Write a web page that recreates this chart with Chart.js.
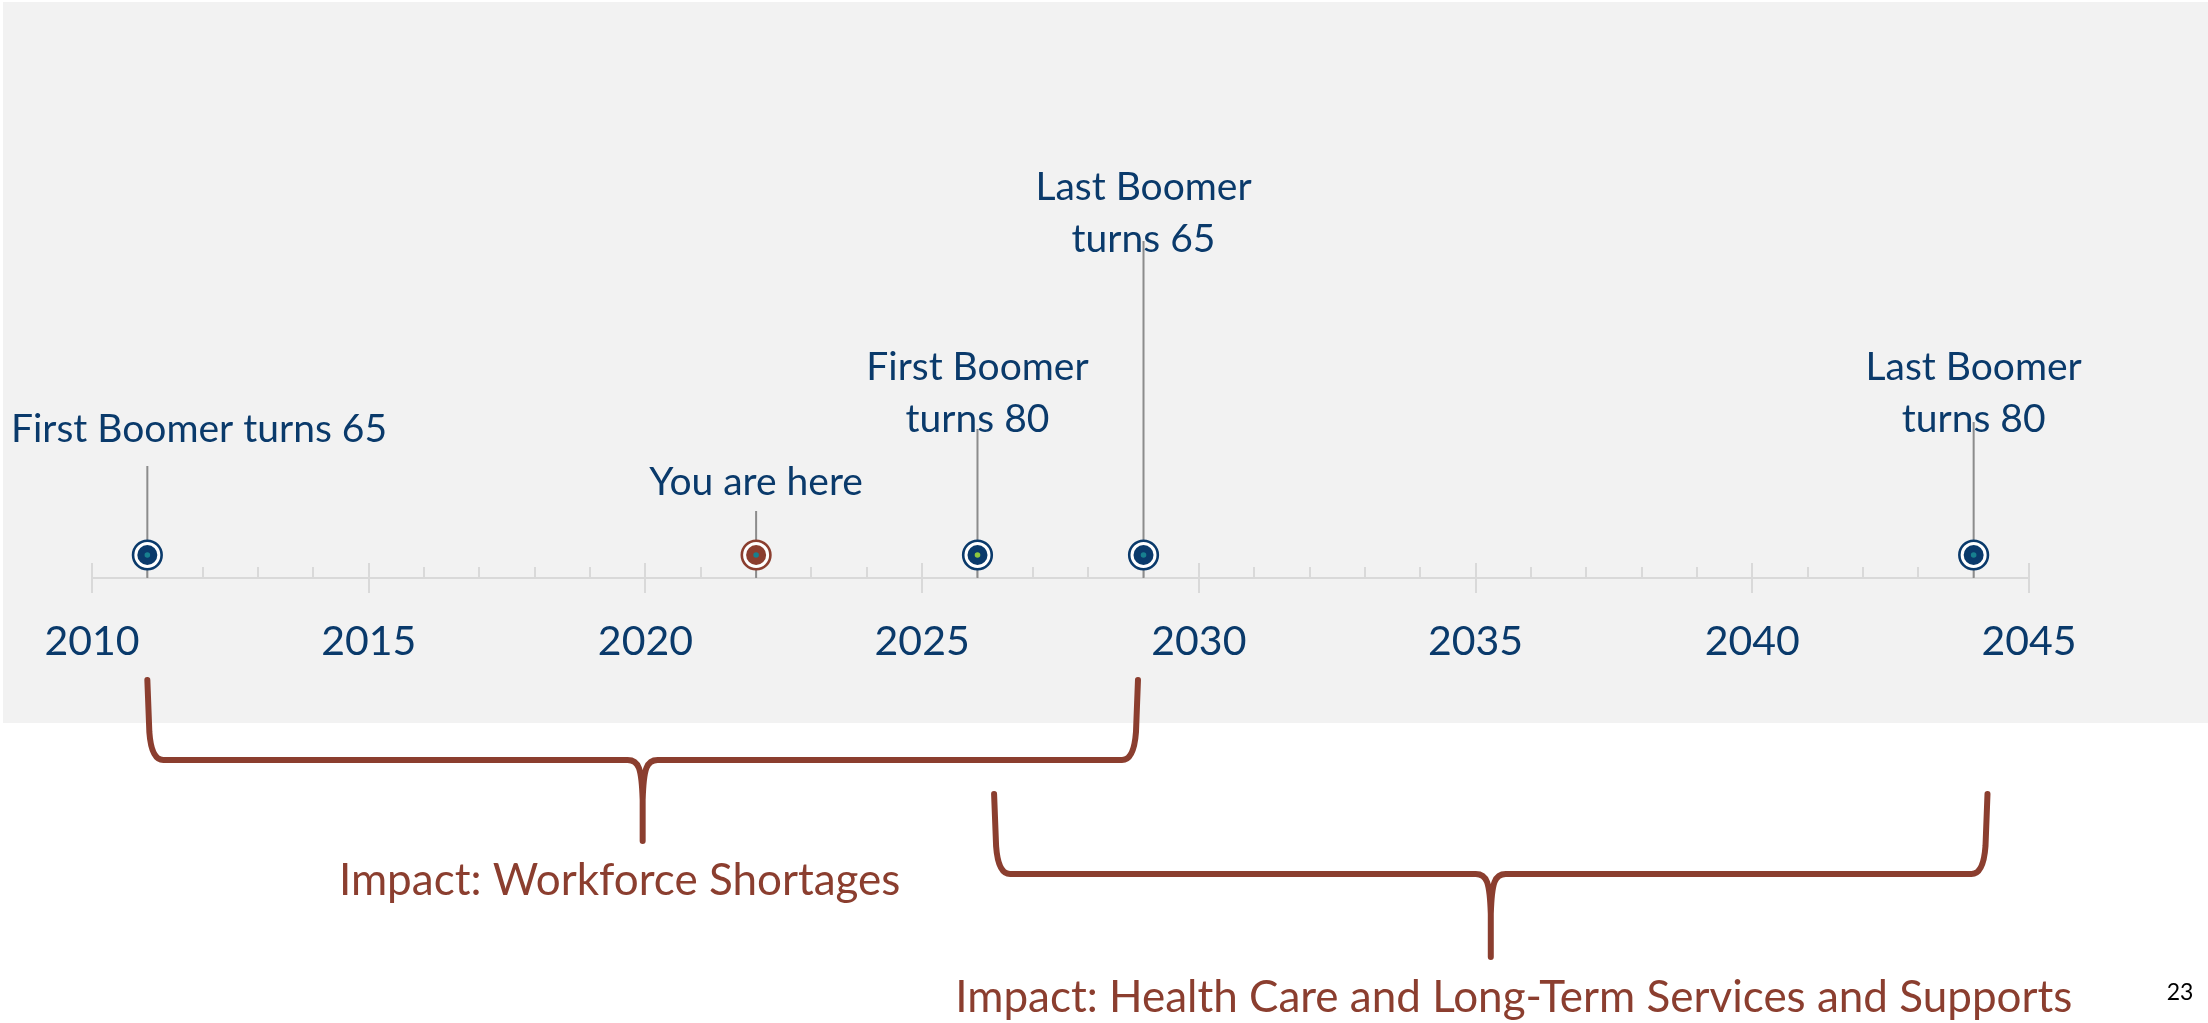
<!DOCTYPE html>
<html>
<head>
<meta charset="utf-8">
<title>Boomer timeline</title>
<script src="https://cdn.jsdelivr.net/npm/chart.js@4.4.0/dist/chart.umd.min.js"></script>
<style>
  html, body { margin:0; padding:0; background:#fff; overflow:hidden; }
  canvas { display:block; }
</style>
</head>
<body>
<canvas id="timeline" width="2208" height="1023"></canvas>
<script>
// dados da linha do tempo
const yearMin = 2010;
const yearMax = 2045;
const eventYears  = [2011, 2022, 2026, 2029, 2044];
const eventLabels = [
  ['First Boomer turns 65'],
  ['You are here'],
  ['First Boomer', 'turns 80'],
  ['Last Boomer', 'turns 65'],
  ['Last Boomer', 'turns 80']
];
const eventTypes  = ['milestone', 'now', 'next', 'milestone', 'milestone'];
const markerLevel = 4.6;                           // altura dos marcadores (unidades do eixo y)
const stemTops    = [22.4, 13.4, 29.8, 67.4, 31.2]; // topo de cada haste
const labelLevels = [29.8, 19.2, 42.2, 78.2, 42.2]; // centro da primeira linha do rótulo

// chaves de impacto
const spanStarts = [2011, 2026.3];
const spanEnds   = [2028.9, 2044.25];
const spanLabels = ['Impact: Workforce Shortages', 'Impact: Health Care and Long-Term Services and Supports'];
const pageNumber = '23';

// estilos
const NAVY = '#0a3a6b';
const BRICK = '#8b3e2f';
const typeStyle = {
  milestone: { ring: NAVY,  core: NAVY,  dot: '#17808f' },
  now:       { ring: BRICK, core: BRICK, dot: '#17808f' },
  next:      { ring: NAVY,  core: NAVY,  dot: '#8dc63f' }
};
const braceGeom = [
  { armTop: 680, bar: 760, tip: 841, text: 881, shift: -23 },
  { armTop: 794, bar: 874, tip: 957, text: 998, shift: 23 }
];

const stemData = [];
eventYears.forEach((yr, i) => {
  stemData.push({ x: yr, y: 0 }, { x: yr, y: stemTops[i] }, { x: yr, y: null });
});
const markerData = eventYears.map(yr => ({ x: yr, y: markerLevel }));

const backdrop = {
  id: 'backdrop',
  beforeDraw(chart) {
    const ctx = chart.ctx;
    ctx.save();
    ctx.fillStyle = '#ffffff';
    ctx.fillRect(0, 0, chart.width, chart.height);
    ctx.fillStyle = '#f2f2f2';
    ctx.fillRect(3, 2, chart.width - 3, 721);
    ctx.restore();
  },
  beforeDatasetsDraw(chart) {
    // marcas acima do eixo (anos inteiros menores, quinquênios maiores)
    const x = chart.scales.x, ctx = chart.ctx, base = chart.chartArea.bottom;
    ctx.save();
    ctx.strokeStyle = '#d9d9d9';
    ctx.lineWidth = 2;
    x.ticks.forEach(t => {
      const px = Math.round(x.getPixelForValue(t.value));
      const len = t.value % 5 === 0 ? 15 : 11;
      ctx.beginPath();
      ctx.moveTo(px, base);
      ctx.lineTo(px, base - len);
      ctx.stroke();
    });
    ctx.restore();
  }
};

function drawBrace(ctx, L, R, g) {
  const M = (L + R) / 2, T = g.armTop, B = g.bar, Y = g.tip;
  ctx.beginPath();
  ctx.moveTo(L, T);
  ctx.lineTo(L + 2, B - 28);
  ctx.quadraticCurveTo(L + 4, B, L + 16, B);
  ctx.lineTo(M - 15, B);
  ctx.bezierCurveTo(M - 4, B, M - 1, B + 8, M, B + 40);
  ctx.lineTo(M, Y);
  ctx.moveTo(M, B + 40);
  ctx.bezierCurveTo(M + 1, B + 8, M + 4, B, M + 15, B);
  ctx.lineTo(R - 16, B);
  ctx.quadraticCurveTo(R - 4, B, R - 2, B - 28);
  ctx.lineTo(R, T);
  ctx.stroke();
}

const annotations = {
  id: 'annotations',
  afterDraw(chart) {
    const ctx = chart.ctx, xs = chart.scales.x, ys = chart.scales.y;
    ctx.save();
    // rótulos dos eventos
    ctx.fillStyle = NAVY;
    ctx.font = '39px Lato';
    ctx.textAlign = 'center';
    ctx.textBaseline = 'middle';
    eventYears.forEach((yr, i) => {
      const px = xs.getPixelForValue(yr);
      const top = ys.getPixelForValue(labelLevels[i]);
      eventLabels[i].forEach((line, j) => {
        const w = ctx.measureText(line).width;
        let cx = Math.max(px, 11 + w / 2);
        cx = Math.min(cx, chart.width - 11 - w / 2);
        ctx.fillText(line, cx, top + j * 52);
      });
    });
    // chaves
    ctx.strokeStyle = BRICK;
    ctx.lineWidth = 6;
    ctx.lineJoin = 'round';
    ctx.lineCap = 'round';
    ctx.fillStyle = BRICK;
    ctx.font = '44px Lato';
    spanStarts.forEach((s, i) => {
      const L = xs.getPixelForValue(s), R = xs.getPixelForValue(spanEnds[i]);
      const g = braceGeom[i];
      drawBrace(ctx, L, R, g);
      ctx.fillText(spanLabels[i], (L + R) / 2 + g.shift, g.text);
    });
    // número da página
    ctx.fillStyle = '#000';
    ctx.font = '23px Lato';
    ctx.fillText(pageNumber, 2180, 993);
    ctx.restore();
  }
};

new Chart(document.getElementById('timeline'), {
  type: 'scatter',
  data: {
    datasets: [
      { data: markerData, order: 1, pointRadius: 2.8, pointBorderWidth: 0,
        pointBackgroundColor: eventTypes.map(t => typeStyle[t].dot) },
      { data: markerData, order: 2, pointRadius: 10, pointBorderWidth: 0,
        pointBackgroundColor: eventTypes.map(t => typeStyle[t].core) },
      { data: markerData, order: 3, pointRadius: 14.3, pointBorderWidth: 2.6,
        pointBackgroundColor: '#ffffff',
        pointBorderColor: eventTypes.map(t => typeStyle[t].ring) },
      { data: stemData, order: 4, showLine: true, spanGaps: false,
        borderColor: '#8c8c8c', borderWidth: 2, pointRadius: 0 }
    ]
  },
  options: {
    responsive: false,
    animation: false,
    devicePixelRatio: 1,
    events: [],
    layout: { padding: { left: 92, right: 179, top: 78, bottom: 0 } },
    plugins: { legend: { display: false }, tooltip: { enabled: false } },
    scales: {
      x: {
        type: 'linear',
        min: yearMin,
        max: yearMax,
        offset: false,
        afterFit(scale) { scale.height = 445; },
        border: { display: true, color: '#d9d9d9', width: 2 },
        grid: {
          drawOnChartArea: false,
          drawTicks: true,
          tickLength: 15,
          lineWidth: 2,
          color: c => (c.tick && c.tick.value % 5 === 0) ? '#d9d9d9' : 'rgba(0,0,0,0)'
        },
        ticks: {
          stepSize: 1,
          autoSkip: false,
          maxRotation: 0,
          padding: 24,
          color: NAVY,
          font: { family: 'Lato', size: 41 },
          callback: v => (v % 5 === 0 ? String(v) : '')
        }
      },
      y: { display: false, min: 0, max: 100 }
    }
  },
  plugins: [backdrop, annotations]
});
</script>
</body>
</html>
